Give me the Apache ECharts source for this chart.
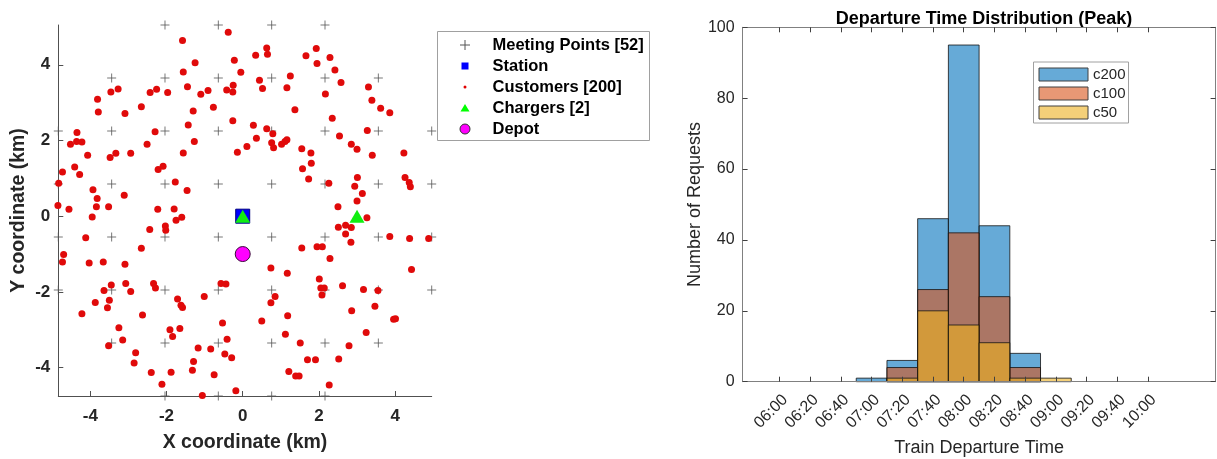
<!DOCTYPE html>
<html>
<head>
<meta charset="utf-8">
<script src="https://cdn.jsdelivr.net/npm/echarts@6/dist/echarts.min.js"></script>
<style>
  html, body { margin: 0; padding: 0; background: #fff; }
  #chart { width: 1217px; height: 459px; }
</style>
</head>
<body>
<div id="chart"></div>
<script>
// ---------- Service area (km) ----------
const meetingPoints = [
  [-2.04, 5.05], [-0.64, 5.05], [0.76, 5.05], [2.16, 5.05],
  [-3.44, 3.65], [-2.04, 3.65], [-0.64, 3.65], [0.76, 3.65], [2.16, 3.65], [3.56, 3.65],
  [-4.84, 2.25], [-3.44, 2.25], [-2.04, 2.25], [-0.64, 2.25], [0.76, 2.25], [2.16, 2.25], [3.56, 2.25], [4.96, 2.25],
  [-4.84, 0.85], [-3.44, 0.85], [-2.04, 0.85], [-0.64, 0.85], [0.76, 0.85], [2.16, 0.85], [3.56, 0.85], [4.96, 0.85],
  [-4.84, -0.55], [-3.44, -0.55], [-2.04, -0.55], [-0.64, -0.55], [0.76, -0.55], [2.16, -0.55], [3.56, -0.55], [4.96, -0.55],
  [-4.84, -1.95], [-3.44, -1.95], [-2.04, -1.95], [-0.64, -1.95], [0.76, -1.95], [2.16, -1.95], [3.56, -1.95], [4.96, -1.95],
  [-3.44, -3.35], [-2.04, -3.35], [-0.64, -3.35], [0.76, -3.35], [2.16, -3.35], [3.56, -3.35],
  [-2.04, -4.75], [-0.64, -4.75], [0.76, -4.75], [2.16, -4.75]
];
const station = [[0, 0]];
const customers = [
  [-0.38, 4.86], [-1.58, 4.64], [-1.25, 4.05], [-0.22, 4.12], [-0.05, 3.80], [-1.56, 3.81], [-1.45, 3.42],
  [-0.42, 3.33], [-0.26, 3.28], [-0.25, 3.46], [-0.91, 3.32], [-1.10, 3.22], [-0.77, 2.88], [-1.30, 2.78],
  [-0.26, 2.52], [-1.43, 2.41], [-1.27, 1.97], [-1.56, 1.67], [-0.14, 1.69], [0.11, 1.84],
  [-3.27, 3.36], [-3.46, 3.28], [-3.81, 3.09], [-3.79, 2.75], [-3.09, 2.71], [-2.66, 2.89], [-2.43, 3.27],
  [-2.26, 3.35], [-1.97, 3.27], [-2.30, 2.23], [-2.51, 1.90], [-2.94, 1.66], [-3.33, 1.66], [-3.48, 1.55],
  [-4.07, 1.61], [-4.52, 1.90], [-4.36, 1.97], [-4.22, 1.96], [-4.35, 2.21], [-4.41, 1.30], [-4.28, 1.10],
  [-4.73, 1.17], [-4.83, 0.87], [-4.85, 0.28], [-4.56, 0.18], [-3.93, 0.70], [-3.82, 0.47], [-3.84, 0.25],
  [-3.52, 0.25], [-3.11, 0.55], [-2.22, 1.23], [-2.09, 1.32], [-1.77, 0.90], [-1.46, 0.68], [-2.23, 0.18],
  [-1.80, 0.19],
  [0.34, 4.25], [0.63, 4.44], [0.65, 4.28], [0.44, 3.59], [0.52, 3.37], [1.25, 3.70], [1.16, 3.39],
  [1.66, 4.24], [1.93, 4.43], [1.95, 4.03], [2.29, 4.19], [2.42, 3.86], [2.58, 3.53], [2.17, 3.23],
  [1.37, 2.81], [2.35, 2.59], [3.30, 3.41], [3.39, 3.06], [3.62, 2.85], [3.86, 2.73], [0.28, 2.40],
  [0.36, 2.06], [0.63, 2.31], [0.79, 2.18], [0.76, 1.94], [0.81, 1.81], [1.02, 1.90], [1.11, 1.97],
  [1.16, 2.02], [1.55, 1.78], [1.79, 1.67], [1.80, 1.40], [1.57, 1.25], [1.73, 0.98], [2.54, 2.12],
  [2.85, 1.90], [3.00, 1.77], [3.27, 2.26], [3.40, 1.61], [4.23, 1.67], [3.01, 1.02], [2.94, 0.79],
  [3.14, 0.60], [3.00, 0.40], [2.26, 0.87], [2.50, 0.25], [4.26, 1.02], [4.37, 0.89], [4.40, 0.78],
  [-3.95, -0.02], [-1.75, -0.11], [-1.60, -0.03], [-2.03, -0.26], [-2.02, -0.37], [-2.44, -0.35],
  [-4.12, -0.57], [-2.66, -0.85], [-4.70, -1.01], [-4.73, -1.21], [-4.03, -1.24], [-3.66, -1.21],
  [-3.09, -1.27], [-3.45, -1.82], [-3.64, -1.96], [-3.07, -1.78], [-2.94, -1.99], [-2.34, -1.78],
  [-2.29, -1.90], [-3.50, -2.22], [-3.87, -2.28], [-3.55, -2.42], [-4.22, -2.58], [-2.63, -2.61],
  [-1.71, -2.19], [-1.62, -2.35], [-1.58, -2.41], [-1.01, -2.12], [-0.57, -1.78], [-0.44, -1.79],
  [-0.53, -2.82], [-3.25, -2.95], [-3.15, -3.27], [-3.52, -3.42], [-1.91, -3.00], [-1.65, -2.97],
  [-1.84, -3.18], [-2.81, -3.61], [-2.85, -3.88], [-2.40, -4.13], [-2.12, -4.44], [-1.88, -4.12],
  [-1.29, -3.84], [-1.32, -4.07], [-1.17, -3.48], [-0.84, -3.51], [-0.41, -3.25], [-0.47, -3.64],
  [-0.29, -3.74], [-0.75, -4.19], [-1.06, -4.74], [-0.18, -4.61],
  [3.26, -0.04], [2.51, -0.29], [2.70, -0.24], [2.85, -0.30], [2.70, -0.47], [2.84, -0.69], [3.86, -0.54],
  [4.38, -0.59], [4.88, -0.59], [1.55, -0.84], [1.95, -0.81], [2.09, -0.81], [2.29, -1.12], [0.74, -1.37],
  [1.17, -1.51], [2.01, -1.66], [2.05, -1.90], [2.14, -1.90], [2.08, -2.08], [2.62, -1.84], [3.17, -1.94],
  [3.55, -1.96], [4.43, -1.41], [0.85, -2.12], [0.74, -2.29], [0.50, -2.77], [1.18, -2.63], [2.86, -2.50],
  [3.47, -2.38], [3.96, -2.72], [4.01, -2.71], [1.12, -3.12], [1.51, -3.35], [2.79, -3.42], [3.24, -3.07],
  [1.70, -3.79], [1.91, -3.79], [2.52, -3.77], [1.21, -4.10], [1.39, -4.22], [1.48, -4.22], [2.27, -4.46]
];
const chargers = [[0, 0], [3, 0]];
const depot = [[0, -1]];
const areaTicks = [-4, -2, 0, 2, 4];
const areaLegend = ['Meeting Points [52]', 'Station', 'Customers [200]', 'Chargers [2]', 'Depot'];

// ---------- Departure time histogram ----------
const departureTicks = ['06:00', '06:20', '06:40', '07:00', '07:20', '07:40', '08:00',
                        '08:20', '08:40', '09:00', '09:20', '09:40', '10:00'];
const timeRange = ['05:36', '10:44'];
const binEdges = ['06:50', '07:10', '07:30', '07:50', '08:10', '08:30', '08:50', '09:10'];
const countsC200 = [1, 6, 46, 95, 44, 8, 0];
const countsC100 = [0, 4, 26, 42, 24, 4, 0];
const countsC50  = [0, 1, 20, 16, 11, 1, 1];

const toMin = s => { const p = s.split(':'); return (+p[0]) * 60 + (+p[1]); };
const fmtTime = v => {
  const h = Math.floor(v / 60), m = Math.round(v - h * 60);
  return String(h).padStart(2, '0') + ':' + String(m).padStart(2, '0');
};
const binData = counts => {
  const out = [];
  counts.forEach((c, i) => { if (c > 0) out.push([toMin(binEdges[i]), toMin(binEdges[i + 1]), c]); });
  return out;
};
// one histogram bin: [start, end) x count
function histBar(params, api) {
  const a = api.coord([api.value(0), 0]);
  const b = api.coord([api.value(1), api.value(2)]);
  return {
    type: 'rect',
    shape: { x: a[0], y: b[1], width: b[0] - a[0], height: a[1] - b[1] },
    style: { fill: api.visual('color'), stroke: 'rgba(20,20,20,0.8)', lineWidth: 1 }
  };
}

const FONT = 'Liberation Sans, Arial, Helvetica, sans-serif';
const c200 = 'rgba(0,114,189,0.6)', c100 = 'rgba(217,83,25,0.6)', c50 = 'rgba(237,177,32,0.6)';

const leftAxisLine = { show: true, onZero: false, lineStyle: { color: '#505050', width: 1 } };
const rightAxisLine = { show: true, onZero: false, lineStyle: { color: '#808080', width: 1 } };
const tickMins = departureTicks.map(toMin);

// legend for the area map (shapes + text)
const lgX = 465, lgRows = [45, 66, 87, 108, 129];
const areaLegendGraphics = [
  { type: 'rect', shape: { x: 437.5, y: 31.5, width: 212, height: 109 },
    style: { fill: '#fff', stroke: '#a0a0a0', lineWidth: 1 }, z: 20 },
  { type: 'polyline', shape: { points: [[lgX - 5, lgRows[0]], [lgX + 5, lgRows[0]]] },
    style: { stroke: '#555', lineWidth: 1 }, z: 21 },
  { type: 'polyline', shape: { points: [[lgX, lgRows[0] - 5], [lgX, lgRows[0] + 5]] },
    style: { stroke: '#555', lineWidth: 1 }, z: 21 },
  { type: 'rect', shape: { x: lgX - 3.5, y: lgRows[1] - 3.5, width: 7, height: 7 },
    style: { fill: '#0000ff' }, z: 21 },
  { type: 'circle', shape: { cx: lgX, cy: lgRows[2], r: 1.5 }, style: { fill: '#e00000' }, z: 21 },
  { type: 'polygon', shape: { points: [[lgX - 4.5, lgRows[3] + 3.5], [lgX + 4.5, lgRows[3] + 3.5], [lgX, lgRows[3] - 4]] },
    style: { fill: '#00ff00' }, z: 21 },
  { type: 'circle', shape: { cx: lgX, cy: lgRows[4], r: 5 },
    style: { fill: '#ff00ff', stroke: '#333', lineWidth: 1 }, z: 21 }
].concat(areaLegend.map((t, i) => ({
  type: 'text', x: 492.5, y: lgRows[i], z: 21,
  style: { text: t, font: 'bold 16.5px ' + FONT, fill: '#000', verticalAlign: 'middle' }
})));

const chart = echarts.init(document.getElementById('chart'), null, { renderer: 'canvas' });
chart.setOption({
  animation: false,
  backgroundColor: '#fff',
  textStyle: { fontFamily: FONT },
  title: {
    text: 'Departure Time Distribution (Peak)',
    left: 979, top: 5, textAlign: 'center',
    textStyle: { fontSize: 18, fontWeight: 'bold', color: '#000', fontFamily: FONT }
  },
  legend: {
    data: [
      { name: 'c200', itemStyle: { color: c200 } },
      { name: 'c100', itemStyle: { color: c100 } },
      { name: 'c50', itemStyle: { color: c50 } }
    ],
    orient: 'vertical', left: 1033.5, top: 62, padding: [5, 3, 3, 5],
    itemGap: 4, itemWidth: 49, itemHeight: 13, icon: 'rect',
    borderColor: '#a0a0a0', borderWidth: 1, backgroundColor: '#fff',
    itemStyle: { borderColor: '#404040', borderWidth: 1 },
    textStyle: { fontSize: 15, color: '#262626', fontFamily: FONT },
    selectedMode: false
  },
  grid: [
    { left: 58.3, top: 25, width: 373.4, height: 371, outerBoundsMode: 'none' },
    { left: 742.6, top: 27.3, width: 473, height: 354.4, outerBoundsMode: 'none' }
  ],
  xAxis: [
    { type: 'value', gridIndex: 0, min: -4.84, max: 4.96,
      axisLine: leftAxisLine,
      axisTick: { show: true, inside: true, length: 5, customValues: areaTicks, lineStyle: { color: '#505050' } },
      axisLabel: { customValues: areaTicks, fontSize: 17, fontWeight: 'bold', color: '#262626', margin: 12, fontFamily: FONT },
      splitLine: { show: false },
      name: 'X coordinate (km)', nameLocation: 'middle', nameGap: 37,
      nameTextStyle: { fontSize: 19.5, fontWeight: 'bold', color: '#262626', fontFamily: FONT } },
    { type: 'value', gridIndex: 1, min: toMin(timeRange[0]), max: toMin(timeRange[1]), position: 'bottom', z: 10,
      axisLine: rightAxisLine,
      axisTick: { show: true, inside: true, length: 5, customValues: tickMins, lineStyle: { color: '#404040' } },
      axisLabel: { customValues: tickMins, formatter: v => fmtTime(v), rotate: 45, verticalAlign: 'top',
                   fontSize: 16, color: '#262626', margin: 10, fontFamily: FONT },
      splitLine: { show: false },
      name: 'Train Departure Time', nameLocation: 'middle', nameGap: 57,
      nameTextStyle: { fontSize: 18, color: '#262626', fontFamily: FONT } },
    { type: 'value', gridIndex: 1, min: toMin(timeRange[0]), max: toMin(timeRange[1]), position: 'top', z: 10,
      axisLine: rightAxisLine,
      axisTick: { show: true, inside: true, length: 5, customValues: tickMins, lineStyle: { color: '#404040' } },
      axisLabel: { show: false }, splitLine: { show: false } }
  ],
  yAxis: [
    { type: 'value', gridIndex: 0, min: -4.75, max: 5.05,
      axisLine: leftAxisLine,
      axisTick: { show: true, inside: true, length: 5, customValues: areaTicks, lineStyle: { color: '#505050' } },
      axisLabel: { customValues: areaTicks, fontSize: 17, fontWeight: 'bold', color: '#262626', margin: 8, fontFamily: FONT },
      splitLine: { show: false },
      name: 'Y coordinate (km)', nameLocation: 'middle', nameGap: 30,
      nameTextStyle: { fontSize: 19.5, fontWeight: 'bold', color: '#262626', fontFamily: FONT } },
    { type: 'value', gridIndex: 1, min: 0, max: 100, interval: 20, position: 'left', z: 10,
      axisLine: rightAxisLine,
      axisTick: { show: true, inside: true, length: 5, lineStyle: { color: '#404040' } },
      axisLabel: { fontSize: 16, color: '#262626', margin: 8, fontFamily: FONT },
      splitLine: { show: false },
      name: 'Number of Requests', nameLocation: 'middle', nameGap: 37,
      nameTextStyle: { fontSize: 18, color: '#262626', fontFamily: FONT } },
    { type: 'value', gridIndex: 1, min: 0, max: 100, interval: 20, position: 'right', z: 10,
      axisLine: rightAxisLine,
      axisTick: { show: true, inside: true, length: 5, lineStyle: { color: '#404040' } },
      axisLabel: { show: false }, splitLine: { show: false } }
  ],
  graphic: areaLegendGraphics,
  series: [
    { name: 'Meeting Points [52]', type: 'scatter', xAxisIndex: 0, yAxisIndex: 0, clip: false,
      symbol: 'path://M0,5L10,5M5,0L5,10', symbolSize: 9,
      itemStyle: { color: 'transparent', borderColor: '#555', borderWidth: 1 },
      data: meetingPoints, silent: true },
    { name: 'Station', type: 'scatter', xAxisIndex: 0, yAxisIndex: 0, clip: false,
      symbol: 'rect', symbolSize: 14,
      itemStyle: { color: '#0000ff', borderColor: '#000080', borderWidth: 1, opacity: 1 },
      data: station, silent: true },
    { name: 'Customers [200]', type: 'scatter', xAxisIndex: 0, yAxisIndex: 0, clip: false,
      symbol: 'circle', symbolSize: 7,
      itemStyle: { color: '#e00a0a', opacity: 1 },
      data: customers, silent: true },
    { name: 'Chargers [2]', type: 'scatter', xAxisIndex: 0, yAxisIndex: 0, clip: false,
      symbol: 'triangle', symbolSize: [15, 13],
      itemStyle: { color: '#11ee11', opacity: 1 },
      data: chargers, silent: true },
    { name: 'Depot', type: 'scatter', xAxisIndex: 0, yAxisIndex: 0, clip: false,
      symbol: 'circle', symbolSize: 15,
      itemStyle: { color: '#ff00ff', borderColor: '#3a0a3a', borderWidth: 1, opacity: 1 },
      data: depot, silent: true },
    { name: 'c200', type: 'custom', xAxisIndex: 1, yAxisIndex: 1, renderItem: histBar,
      itemStyle: { color: c200 }, encode: { x: [0, 1], y: 2 }, data: binData(countsC200), silent: true },
    { name: 'c100', type: 'custom', xAxisIndex: 1, yAxisIndex: 1, renderItem: histBar,
      itemStyle: { color: c100 }, encode: { x: [0, 1], y: 2 }, data: binData(countsC100), silent: true },
    { name: 'c50', type: 'custom', xAxisIndex: 1, yAxisIndex: 1, renderItem: histBar,
      itemStyle: { color: c50 }, encode: { x: [0, 1], y: 2 }, data: binData(countsC50), silent: true }
  ]
});
</script>
</body>
</html>
